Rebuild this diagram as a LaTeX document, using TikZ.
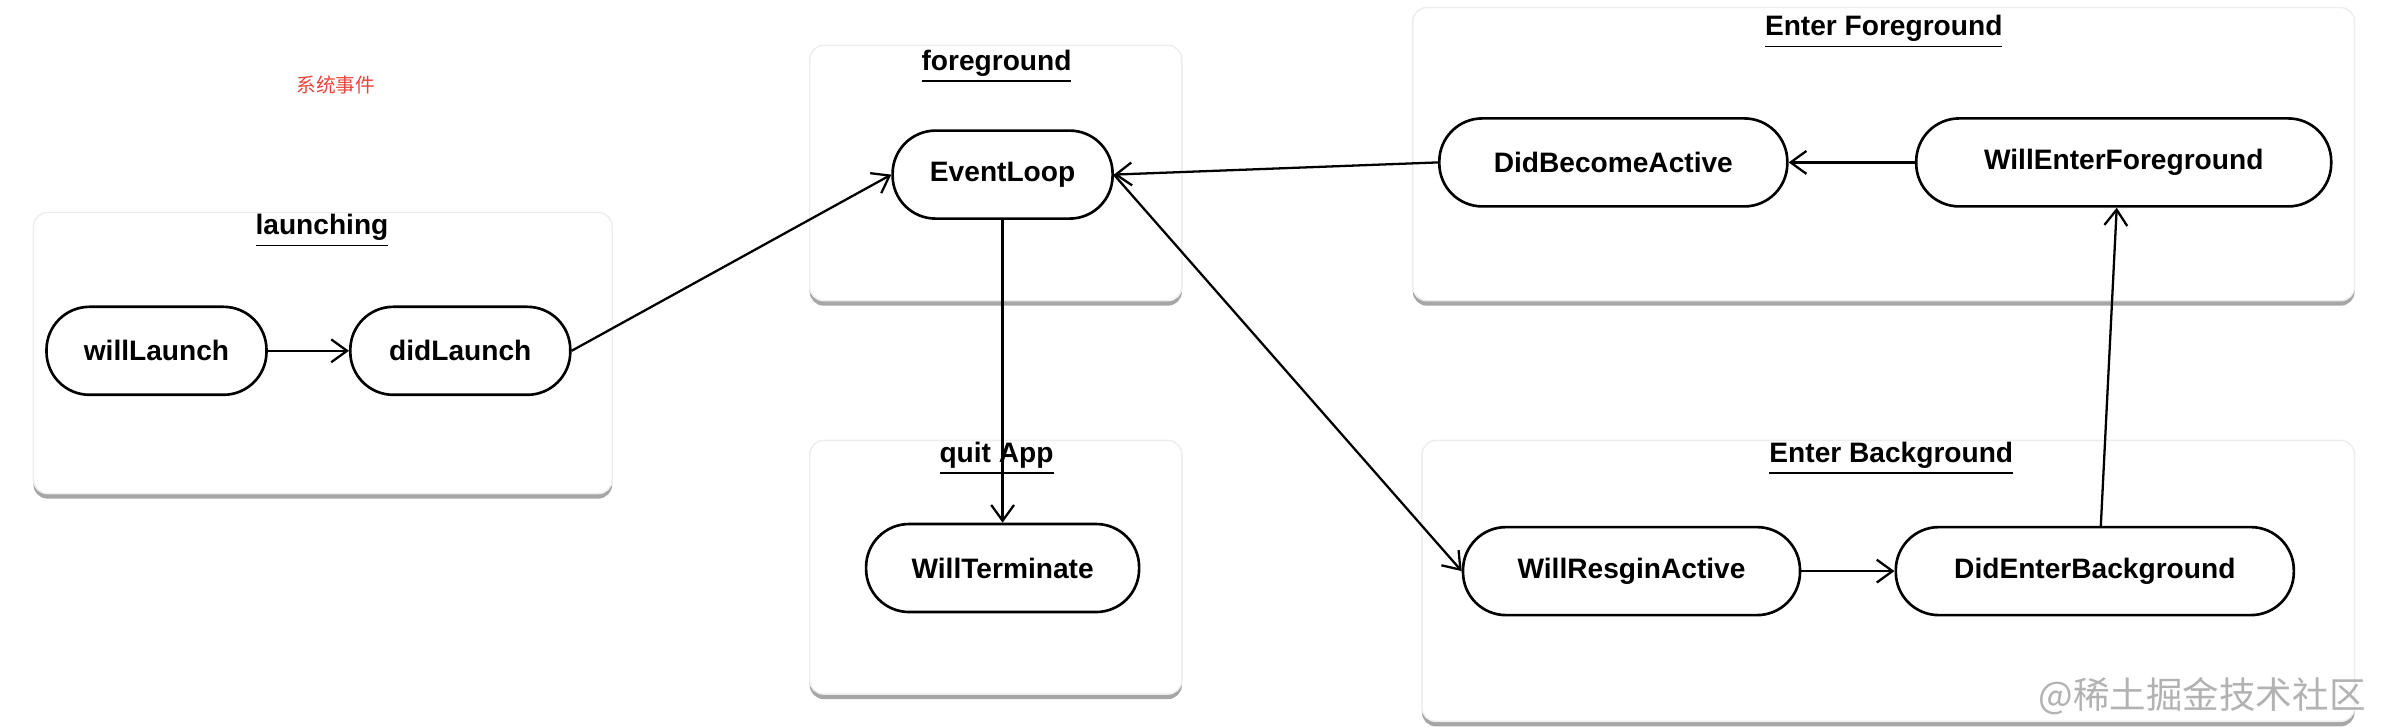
\documentclass[tikz,border=0pt]{standalone}
\usepackage{fontspec}
\setmainfont{Liberation Sans}
\newfontfamily\cjk{Noto Sans CJK SC}
\usetikzlibrary{arrows.meta,shadows}
\definecolor{sysred}{HTML}{E8453C}

\begin{document}
\begin{tikzpicture}[
   >={Straight Barb[length=4.5pt,width=6.5pt]},
   group/.style={draw=black!7, fill=white, rounded corners=4pt,
     drop shadow={shadow xshift=0pt, shadow yshift=-0.05cm, fill=black, opacity=0.35}},
   title/.style={font=\bfseries\fontsize{8}{9.6}\selectfont},
   state/.style={draw, line width=0.75pt, rounded corners=0.43cm, minimum height=0.88cm,
     inner xsep=0pt, font=\bfseries\fontsize{8}{9.6}\selectfont},
   flow/.style={->, line width=0.65pt}
  ]
   \useasboundingbox (0,0) rectangle (23.82,7.26);

   % the five groups
   \draw[group] (0.334,2.324) rectangle (6.122,5.135);
   \draw[group] (8.097,4.253) rectangle (11.819,6.806);
   \draw[group] (8.097,0.319) rectangle (11.819,2.856);
   \draw[group] (14.128,4.253) rectangle (23.546,7.185);
   \draw[group] (14.219,0.046) rectangle (23.546,2.856);

   \node[title] (launching)  at (3.220,4.953)  {\underline{launching}};
   \node[title] (foreground) at (9.965,6.594)  {\underline{foreground}};
   \node[title] (quitApp)    at (9.965,2.674)  {\underline{quit App}};
   \node[title] (enterFore)  at (18.837,6.943) {\underline{Enter Foreground}};
   \node[title] (enterBack)  at (18.913,2.674) {\underline{Enter Background}};

   \node[text=sysred, font=\cjk\fontsize{5.6}{6.5}\selectfont] (sysEvent) at (3.357,6.411) {系统事件};

   % states
   \node[state, minimum width=2.20cm] (willLaunch)          at (1.565,3.752)  {willLaunch};
   \node[state, minimum width=2.20cm] (didLaunch)           at (4.603,3.752)  {didLaunch};
   \node[state, minimum width=2.20cm] (eventLoop)           at (10.026,5.514) {EventLoop};
   \node[state, minimum width=2.73cm] (willTerminate)       at (10.026,1.580) {WillTerminate};
   \node[state, minimum width=3.48cm] (didBecomeActive)     at (16.133,5.636) {DidBecomeActive};
   \node[state, minimum width=4.15cm] (willEnterForeground) at (21.237,5.636) {WillEnterForeground};
   \node[state, minimum width=3.37cm] (willResignActive)    at (16.315,1.549) {WillResginActive};
   \node[state, minimum width=3.98cm] (didEnterBackground)  at (20.948,1.549) {DidEnterBackground};

   % transitions
   \draw[flow] (willLaunch.east) -- (didLaunch.west);
   \draw[flow] (didLaunch.east) -- (eventLoop.west);
   \draw[flow] (eventLoop.south) -- (willTerminate.north);
   \draw[flow] (eventLoop.east) -- (willResignActive.west);
   \draw[flow] (didBecomeActive.west) -- (eventLoop.east);
   \draw[flow] (willEnterForeground.west) -- (didBecomeActive.east);
   \draw[flow] ([xshift=0.06cm]didEnterBackground.north) -- ([xshift=-0.07cm]willEnterForeground.south);
   \draw[flow] (willResignActive.east) -- (didEnterBackground.west);

   \node[anchor=east, text=black!30, font=\cjk\fontsize{10.4}{12}\selectfont] (mark) at (23.78,0.30) {@稀土掘金技术社区};
  \end{tikzpicture}
\end{document}
